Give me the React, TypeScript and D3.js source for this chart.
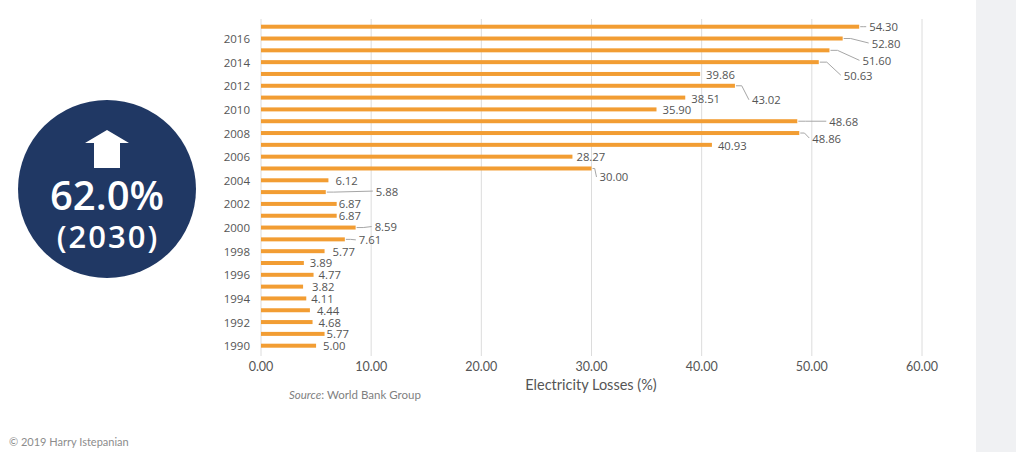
import React from "react";
import * as d3 from "d3";

// ---- data ----
const years: number[] = [
  2017, 2016, 2015, 2014, 2013, 2012, 2011, 2010, 2009, 2008, 2007, 2006, 2005, 2004,
  2003, 2002, 2001, 2000, 1999, 1998, 1997, 1996, 1995, 1994, 1993, 1992, 1991, 1990,
];
const losses: number[] = [
  54.3, 52.8, 51.6, 50.63, 39.86, 43.02, 38.51, 35.9, 48.68, 48.86, 40.93, 28.27, 30.0, 6.12,
  5.88, 6.87, 6.87, 8.59, 7.61, 5.77, 3.89, 4.77, 3.82, 4.11, 4.44, 4.68, 5.77, 5.0,
];
const xTicks: number[] = [0, 10, 20, 30, 40, 50, 60];
const yearLabels: number[] = [2016, 2014, 2012, 2010, 2008, 2006, 2004, 2002, 2000, 1998, 1996, 1994, 1992, 1990];

// label nudges (px) relative to bar end, used for layout of value labels
const labelDx: number[] = [10, 29, 33, 25, 6, 17, 6, 6, 32, 13, 6, 4, 8, 7, 50, 2, 2, 19, 14, 8, 6, 5, 9, 5, 7, 6, 2, 7];
const labelDy: number[] = [0, 4.5, 10, 13, 1, 14, 0.5, 0, 0, 5, 1, 0, 8.5, 0.5, -1, 0, 0, -1, 0.5, 0, 0, 0, 0, 0, 0, 0, 0, 0];

const W = 1016;
const H = 452;

export default function App() {
  const x = d3.scaleLinear().domain([0, 60]).range([261, 922]);
  const y = d3.scalePoint<number>().domain(years).range([26.7, 345.7]);
  const barH = 4;
  const orange = "#F29D33";
  const textGray = "#555555";

  const cx = 107;
  const cy = 189;
  const r = 89;

  return (
    <svg
      width={W}
      height={H}
      style={{ position: "absolute", left: 0, top: 0, background: "#fff" }}
    >
      <rect x={976} y={0} width={40} height={H} fill="#F0F1F3" />

      {/* gridlines */}
      {xTicks.map((t) => (
        <line key={"g" + t} x1={x(t)} x2={x(t)} y1={19} y2={356} stroke="#DCDCDC" strokeWidth={1} />
      ))}

      {/* bars */}
      {years.map((yr, i) => (
        <rect
          key={"b" + yr}
          x={x(0)}
          y={(y(yr) as number) - barH / 2}
          width={x(losses[i]) - x(0)}
          height={barH}
          fill={orange}
        />
      ))}

      {/* leaders and value labels */}
      {years.map((yr, i) => {
        const bx = x(losses[i]);
        const by = y(yr) as number;
        const lx = bx + labelDx[i];
        const ly = by + labelDy[i];
        const leader = labelDx[i] >= 10 || Math.abs(labelDy[i]) >= 4;
        return (
          <g key={"l" + yr}>
            {leader && (
              <path
                d={`M${bx + 1},${by} L${bx + Math.min(8, labelDx[i] * 0.4)},${by} L${lx - 3},${ly}`}
                fill="none"
                stroke="#A6A6A6"
                strokeWidth={1}
              />
            )}
            <text
              x={lx}
              y={ly}
              dominantBaseline="central"
              fontFamily="'Open Sans', sans-serif"
              fontSize={11.3}
              fill={textGray}
            >
              {losses[i].toFixed(2)}
            </text>
          </g>
        );
      })}

      {/* year labels */}
      {yearLabels.map((yr) => (
        <text
          key={"y" + yr}
          x={250}
          y={y(yr) as number}
          textAnchor="end"
          dominantBaseline="central"
          fontFamily="'Open Sans', sans-serif"
          fontSize={11.5}
          fill={textGray}
        >
          {yr}
        </text>
      ))}

      {/* x tick labels */}
      {xTicks.map((t) => (
        <text
          key={"t" + t}
          x={x(t)}
          y={366}
          textAnchor="middle"
          dominantBaseline="central"
          fontFamily="Lato, sans-serif"
          fontSize={12.5}
          fill={textGray}
        >
          {t.toFixed(2)}
        </text>
      ))}

      <text
        x={591}
        y={384}
        textAnchor="middle"
        dominantBaseline="central"
        fontFamily="Lato, sans-serif"
        fontSize={14.5}
        fill={textGray}
      >
        Electricity Losses (%)
      </text>

      <text x={289} y={394} dominantBaseline="central" fontFamily="Lato, sans-serif" fontSize={11.5} fill="#7F7F7F">
        <tspan fontStyle="italic">Source</tspan>: World Bank Group
      </text>

      <text x={9} y={441} dominantBaseline="central" fontFamily="Lato, sans-serif" fontSize={11} fill="#8C8C8C">
        © 2019 Harry Istepanian
      </text>

      {/* KPI circle */}
      <circle cx={cx} cy={cy} r={r} fill="#203864" />
      <path
        d={`M${cx},130 L${cx + 22},143 L${cx + 13},143 L${cx + 13},168 L${cx - 13},168 L${cx - 13},143 L${cx - 22},143 Z`}
        fill="#fff"
      />
      <text
        x={cx}
        y={194}
        textAnchor="middle"
        dominantBaseline="central"
        fontFamily="'Open Sans', sans-serif"
        fontWeight={600}
        fontSize={40}
        fill="#fff"
      >
        62.0%
      </text>
      <text
        x={cx + 1}
        y={236}
        textAnchor="middle"
        dominantBaseline="central"
        fontFamily="'Open Sans', sans-serif"
        fontWeight={600}
        fontSize={31}
        letterSpacing={2}
        fill="#fff"
      >
        (2030)
      </text>
    </svg>
  );
}
